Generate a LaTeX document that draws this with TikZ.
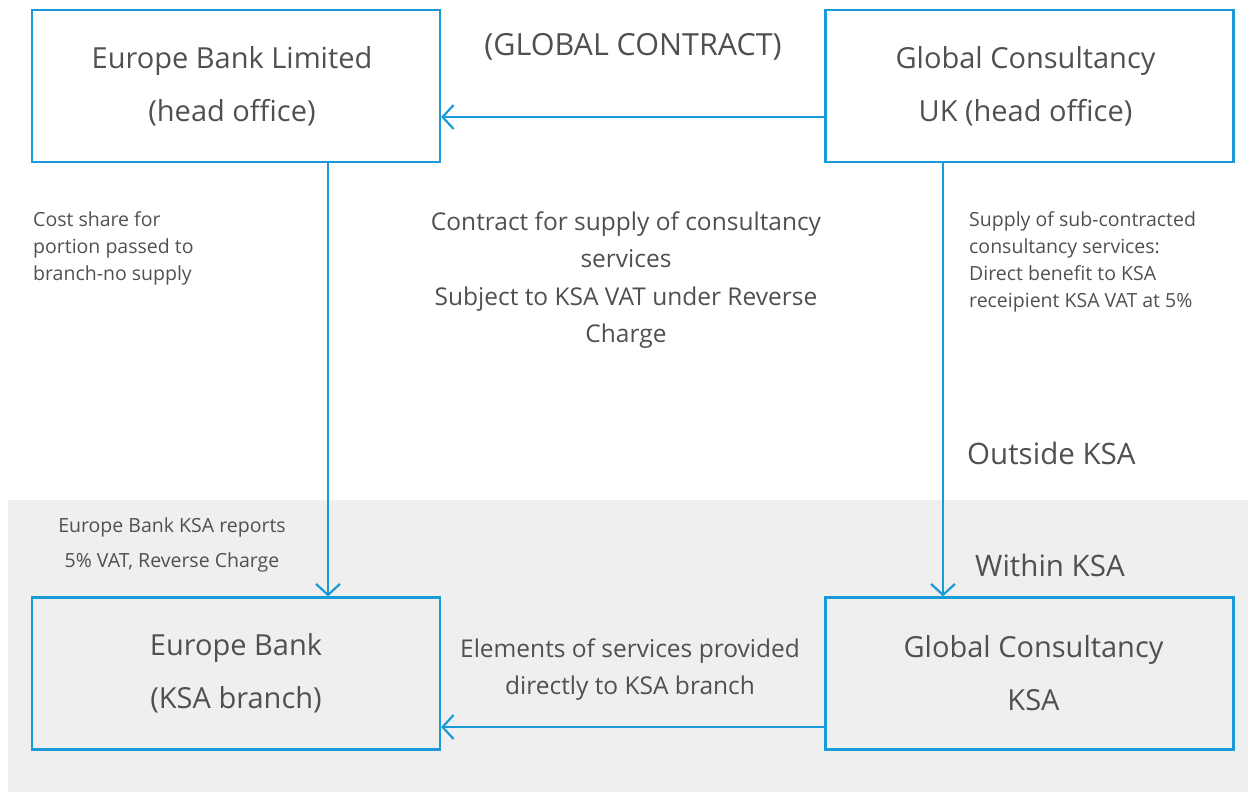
\documentclass[tikz,border=0pt]{standalone}
\usepackage{fontspec}
\setmainfont{Open Sans}
\usetikzlibrary{arrows.meta}
\definecolor{lineblue}{HTML}{1A9AD6}
\definecolor{panelgrey}{HTML}{EFEFEF}
\definecolor{inkgrey}{HTML}{505050}
\tikzset{
  entity/.style={draw=lineblue, line width=2.2pt, minimum width=408pt, minimum height=152pt,
    align=center, text=inkgrey, inner sep=0pt, font=\fontsize{29}{53}\selectfont},
  flow/.style={draw=lineblue, line width=2.2pt, -{Straight Barb[length=11pt,width=24pt,line width=2.2pt]}},
  bignote/.style={text=inkgrey, align=center, inner sep=0pt, font=\fontsize{24.5}{37.5}\selectfont},
  smallnote/.style={text=inkgrey, align=left, inner sep=0pt, anchor=north west, font=\fontsize{19.5}{27}\selectfont},
  zone/.style={text=inkgrey, inner sep=0pt, anchor=west, font=\fontsize{29.5}{32}\selectfont}
}
\begin{document}
\begin{tikzpicture}[x=1pt,y=-1pt]
  \useasboundingbox (0,0) rectangle (1248,792);
  % lower band marking the KSA side
  \fill[panelgrey] (8,500) rectangle (1248,792);

  % parties
  \node[entity] (ebl) at (236,86) {\hspace*{-8pt}Europe Bank Limited\\\hspace*{-8pt}(head office)};
  \node[entity] (gcuk) at (1029.5,86) {\hspace*{-8pt}Global Consultancy\\\hspace*{-8pt}UK (head office)};
  \node[entity] (ebksa) at (236,673.5) {Europe Bank\\(KSA branch)};
  \node[entity] (gcksa) at (1029.5,673.5) {\hspace*{8pt}Global Consultancy\\\hspace*{8pt}KSA};

  % flows
  \draw[flow] ([yshift=-31pt]gcuk.west) -- ([yshift=-31pt]ebl.east);
  \draw[flow] ([xshift=92pt]ebl.south) -- ([xshift=92pt]ebksa.north);
  \draw[flow] ([xshift=-86.5pt]gcuk.south) -- ([xshift=-86.5pt]gcksa.north);
  \draw[flow] ([yshift=-53.5pt]gcksa.west) -- ([yshift=-53.5pt]ebksa.east);

  % labels
  \node[text=inkgrey, inner sep=0pt, font=\fontsize{30.5}{32}\selectfont] (global) at (633,47) {(GLOBAL CONTRACT)};
  \node[bignote] (contract) at (626,280) {Contract for supply of consultancy\\services\\Subject to KSA VAT under Reverse\\Charge};
  \node[smallnote] (costshare) at (33,211) {Cost share for\\portion passed to\\branch-no supply};
  \node[smallnote] (subsupply) at (969,211) {Supply of sub-contracted\\consultancy services:\\Direct benefit to KSA\\receipient KSA VAT at 5\%};
  \node[zone] (outside) at (967,453) {Outside KSA};
  \node[zone] (within) at (975,565) {Within KSA};
  \node[text=inkgrey, align=center, inner sep=0pt, font=\fontsize{19.5}{35}\selectfont] (reports) at (172,545) {Europe Bank KSA reports\\5\% VAT, Reverse Charge};
  \node[bignote] (elements) at (630,669.5) {Elements of services provided\\directly to KSA branch};
\end{tikzpicture}
\end{document}
